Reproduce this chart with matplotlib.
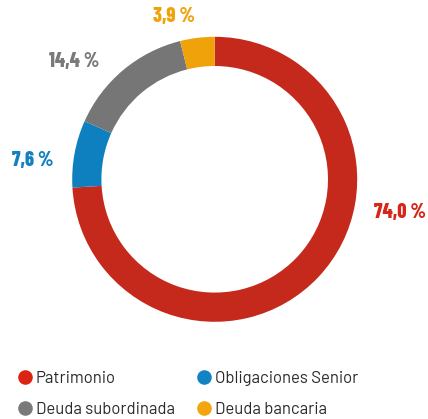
import matplotlib
matplotlib.use("Agg")
import matplotlib.pyplot as plt
from matplotlib.lines import Line2D

categories = ["Patrimonio", "Obligaciones Senior", "Deuda subordinada", "Deuda bancaria"]
values = [74.0, 7.6, 14.4, 3.9]
labels = ["74,0 %", "7,6 %", "14,4 %", "3,9 %"]
slice_colors = ["#c4291c", "#0e80c0", "#767676", "#f0a20a"]
label_colors = ["#d5261a", "#1580c0", "#7a7a7a", "#f0a20a"]
legend_colors = ["#dd2412", "#1183c3", "#7a7a7a", "#f2a50c"]

W, H = 428, 419
fig = plt.figure(figsize=(W / 100, H / 100), dpi=100)
cx, cy, R = 214.7, 179.3, 142.5
ax = fig.add_axes([(cx - R) / W, (H - cy - R) / H, 2 * R / W, 2 * R / H])
ax.pie(values, colors=slice_colors, startangle=90, counterclock=False,
       radius=1.0, wedgeprops=dict(width=0.205, linewidth=0))
ax.set_xlim(-1, 1)
ax.set_ylim(-1, 1)
ax.set_aspect("equal")
ax.axis("off")

font_bold = dict(family=["Barlow Condensed", "DejaVu Sans"], weight=800, size=14.5)
label_pos = [(399.5, 212), (33, 161), (74, 61.5), (174, 17)]
for lab, col, (px, py) in zip(labels, label_colors, label_pos):
    fig.text(px / W, 1 - py / H, lab, color=col, ha="center", va="center", **font_bold)

order = [0, 2, 1, 3]
handles = [Line2D([], [], marker="o", linestyle="none", markersize=10.5,
                  markerfacecolor=legend_colors[i], markeredgewidth=0) for i in order]
leg = fig.legend(handles, [categories[i] for i in order], ncol=2,
                 loc="upper left", bbox_to_anchor=(20 / W, 1 - 370.5 / H),
                 frameon=False, handlelength=0.6, handletextpad=0.35,
                 columnspacing=1.45, labelspacing=0.98, borderpad=0, borderaxespad=0,
                 prop=dict(family=["Barlow", "DejaVu Sans"], size=12),
                 labelcolor="#2a2a2a")

fig.savefig("out.png", dpi=100)
